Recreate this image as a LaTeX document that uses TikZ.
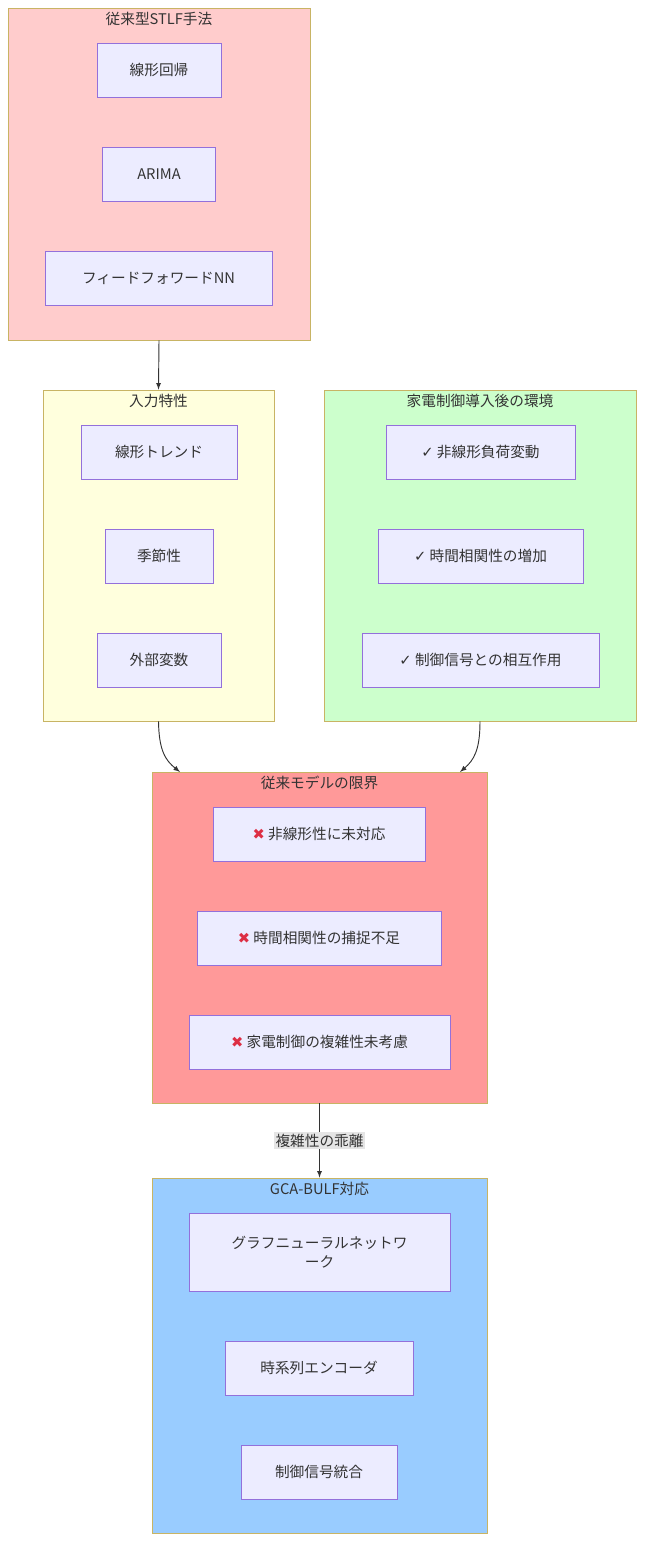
\documentclass[tikz,border=0pt]{standalone}
\usepackage{fontspec}
\setmainfont{Noto Sans CJK JP}
\newfontfamily\symfont{DejaVu Sans}
\usetikzlibrary{positioning}
\definecolor{nodefill}{HTML}{ECECFF}
\definecolor{nodeline}{HTML}{9370DB}
\definecolor{clline}{HTML}{C8B464}
\definecolor{pinkbg}{HTML}{FFCCCC}
\definecolor{yellowbg}{HTML}{FFFFDD}
\definecolor{greenbg}{HTML}{CCFFCC}
\definecolor{redbg}{HTML}{FF9999}
\definecolor{bluebg}{HTML}{99CCFF}
\definecolor{crossred}{HTML}{DD2E44}
\newcommand{\okmark}{{\symfont ✓}\ }
\newcommand{\ngmark}{{\symfont\color{crossred}✖}\ }
\begin{document}
\begin{tikzpicture}[x=0.75pt,y=-0.75pt,
    font=\fontsize{11}{14}\selectfont,
    box/.style={draw=nodeline, fill=nodefill, line width=0.6pt, inner sep=0pt, align=center, text=black!80},
    cluster/.style={draw=clline, line width=0.6pt, inner sep=0pt},
    ctitle/.style={inner sep=0pt, text=black!80},
    link/.style={draw=black!80, line width=0.7pt, -latex}]
    \useasboundingbox (0,0) rectangle (645,1542);

    % clusters
    \node[cluster, fill=pinkbg, minimum width=0.75*302pt, minimum height=0.75*332pt] (stlf) at (159,174) {};
    \node[ctitle] at (159,19) {従来型STLF手法};
    \node[cluster, fill=yellowbg, minimum width=0.75*231pt, minimum height=0.75*331pt] (feat) at (158.5,555.5) {};
    \node[ctitle] at (158.5,401) {入力特性};
    \node[cluster, fill=greenbg, minimum width=0.75*312pt, minimum height=0.75*331pt] (env) at (480,555.5) {};
    \node[ctitle] at (480,401) {家電制御導入後の環境};
    \node[cluster, fill=redbg, minimum width=0.75*335pt, minimum height=0.75*331pt] (limit) at (319.5,937.5) {};
    \node[ctitle] at (319.5,783) {従来モデルの限界};
    \node[cluster, fill=bluebg, minimum width=0.75*335pt, minimum height=0.75*355pt] (gca) at (319.5,1355.5) {};
    \node[ctitle] at (319.5,1189) {GCA-BULF対応};

    % nodes
    \node[box, minimum width=0.75*124pt, minimum height=0.75*54pt] (lr) at (159,70) {線形回帰};
    \node[box, minimum width=0.75*113pt, minimum height=0.75*54pt] (arima) at (159,174) {ARIMA};
    \node[box, minimum width=0.75*227pt, minimum height=0.75*54pt] (ffnn) at (158.5,278) {フィードフォワードNN};

    \node[box, minimum width=0.75*156pt, minimum height=0.75*54pt] (trend) at (159,452) {線形トレンド};
    \node[box, minimum width=0.75*108pt, minimum height=0.75*54pt] (season) at (159,556) {季節性};
    \node[box, minimum width=0.75*124pt, minimum height=0.75*54pt] (exo) at (159,660) {外部変数};

    \node[box, minimum width=0.75*189pt, minimum height=0.75*54pt] (nonlin) at (480.5,452) {\okmark 非線形負荷変動};
    \node[box, minimum width=0.75*205pt, minimum height=0.75*54pt] (tcorr) at (480.5,556) {\okmark 時間相関性の増加};
    \node[box, minimum width=0.75*237pt, minimum height=0.75*54pt] (ctrl) at (480.5,660) {\okmark 制御信号との相互作用};

    \node[box, minimum width=0.75*212pt, minimum height=0.75*54pt] (ng1) at (319,834) {\ngmark 非線形性に未対応};
    \node[box, minimum width=0.75*244pt, minimum height=0.75*54pt] (ng2) at (319,938) {\ngmark 時間相関性の捕捉不足};
    \node[box, minimum width=0.75*261pt, minimum height=0.75*54pt] (ng3) at (319.5,1042) {\ngmark 家電制御の複雑性未考慮};

    \node[box, minimum width=0.75*261pt, minimum height=0.75*78pt] (gnn) at (319.5,1252) {グラフニューラルネットワ\\ーク};
    \node[box, minimum width=0.75*188pt, minimum height=0.75*54pt] (tenc) at (319,1368) {時系列エンコーダ};
    \node[box, minimum width=0.75*156pt, minimum height=0.75*54pt] (sig) at (319,1472) {制御信号統合};

    % connectors
    \draw[link] (stlf.south) -- (feat.north);
    \draw[link] (feat.south) .. controls (159,750) and (165,760) .. (180,772);
    \draw[link] (env.south) .. controls (480,750) and (474,760) .. (460,772);
    \draw[link] (limit.south) -- node[fill=black!10, inner sep=1pt, text=black!80] {複雑性の乖離} (gca.north);
\end{tikzpicture}
\end{document}
